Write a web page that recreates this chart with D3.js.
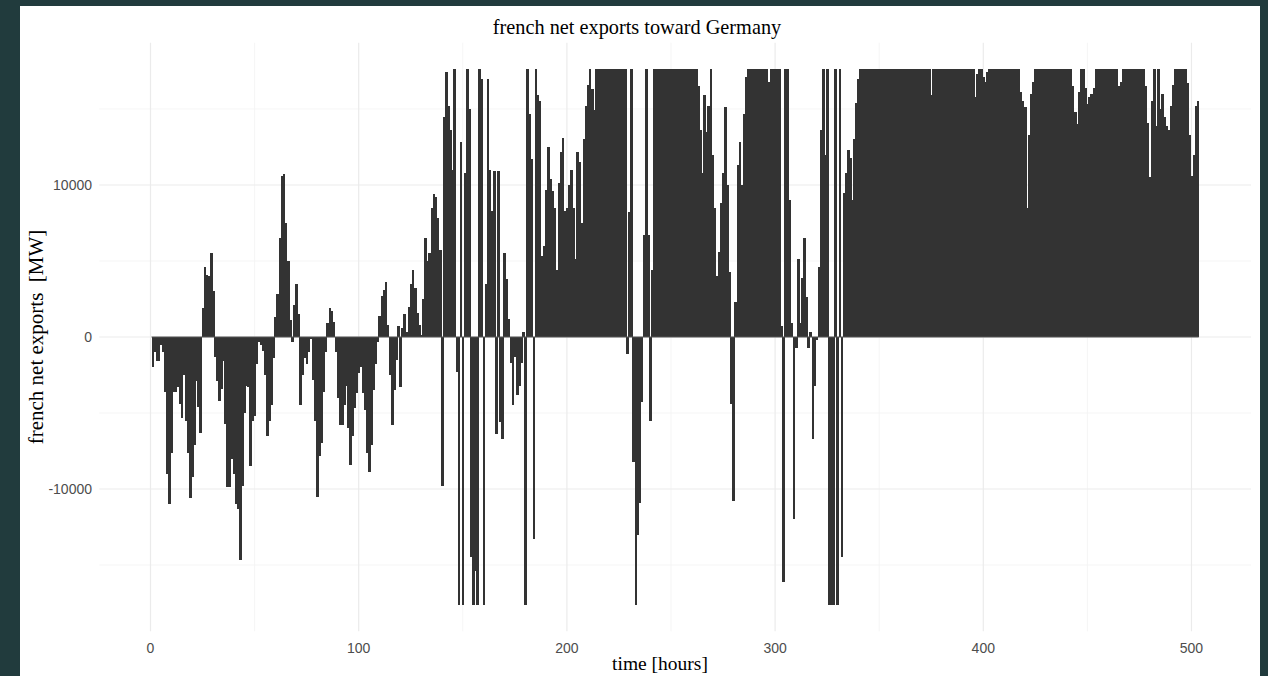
<!DOCTYPE html>
<html lang="en">
<head>
	<meta charset="utf-8">
	<script type="text/javascript" src="https://d3js.org/d3.v7.min.js"></script>
	<style type="text/css">
		body {
			margin: 0;
			background: #213b3d;
		}
		#chart {
			width: 1268px;
			height: 676px;
		}
		.tick-label {
			font-family: "Liberation Sans", Arial, sans-serif;
			font-size: 14px;
			fill: #4d4d4d;
		}
		.axis-title {
			font-family: "Liberation Serif", "Times New Roman", serif;
			font-size: 19.5px;
			fill: #000;
		}
	</style>
</head>
<body>
	<div id="chart"></div>
	<script type="text/javascript">

		// hourly french net exports toward Germany [MW], hour 1 .. 503
		var week1 = [
			-2000, -1000, -1600, -1600, -500, -1000, -3600, -9000, -11000, -7600,
			-3600, -3600, -3300, -4400, -5300, -2500, -5500, -7600, -10600, -9200,
			-7100, -2900, -4600, -6300, 1900, 4600, 4100, 4000, 5500, 3000,
			-1300, -2900, -4200, -3400, -1600, -5700, -9900, -9900, -8000, -9000,
			-11000, -11300, -14700, -9800, -5000, -3200, -3300, -8500, -5500, -5200,
			-1800, -300, -500, -900, -2500, -6500, -5500, -4500, -1400, 1300,
			2800, 6500, 10600, 10700, 7500, 5000, 1150, -350, 2100, 3500,
			1500, -4500, -2500, -1400, -1800, -1000, -100, -2800, -5500, -10500,
			-7800, -7000, -3600, -1000, 900, 1900, 1700, 1000, -1000, -4000,
			-5800, -5800, -4500, -3200, -6000, -8400, -6500, -4700, -3700, -2400,
			-2000, -3700, -4800, -7600, -8900, -7100, -3500, -1800, -300, 1400,
			2700, 3100, 3600, 800, -2500, -5800, -3500, -1500, 700, -3300,
			600, 1500, 300, 2000, 3500, 4400, 3200, 1600, 800, 100,
			2500, 6500, 5000, 5500, 8500, 9400, 9200, 7800, 5700, -9800,
			14500, 17400, 15200, 13600, 11000, 17600, -2300, -17600, 12800, -17600,
			10800, 17600, 15000, -14500, -17600, -15400, -17600, 17600, 17000, -17600,
			3500, 17000, 11000, 8300, 10900, -6400, 10900, -5600
		];

		var week2 = [
			-6700, 5500,
			3800, 1200, -1700, -4500, -1300, -3800, -3200, -1700, 350, -17600,
			17600, 14700, 11700, -13300, 17600, 15900, 15500, 5300, 6000, 9700,
			12500, 10400, 9600, 8500, 4400, 10100, 12200, 13100, 8300, 8500,
			10000, 11000, 8500, 5100, 12200, 11500, 7500, 13000, 15200, 16600,
			17600, 16300, 14900, 17600, 17600, 17600, 17600, 17600, 17600, 17600,
			17600, 17600, 17600, 17600, 17600, 17600, 17600, 17600, -1150, 8200,
			17600, -8200, -17600, -13000, -10900, -4300, 6700, 17600, 6700, -5500,
			4400, 17600, 17600, 17600, 17600, 17600, 17600, 17600, 17600, 17600,
			17600, 17600, 17600, 17600, 17600, 17600, 17600, 17600, 17600, 17600,
			17600, 17600, 16500, 13600, 10800, 15900, 13500, 15200, 17600, 12000,
			8500, 4000, 5600, 8800, 10800, 15100, 10000, 4300, -4400, -10800,
			2300, 11300, 12800, 10000, 14700, 17100, 17600, 17600, 17600, 17600,
			17600, 17600, 17600, 17600, 17600, 17600, 16800, 17600, 17600, 17600,
			17600, 17600, 700, -16100, 17600, 17600, 9000, 900, -12000, -700,
			5100, 900, 3900, 6500, 2600, -700, 300, -6700, -3200, -200,
			4600, 13600, 17600, 12000, 17600, -17600, -17600, -17600, 17600, -17600,
			17600, -14500, 9500, 10800, 12300, 11800
		];

		var week3 = [
			9000, 13000, 15400, 17000,
			17600, 17600, 17600, 17600, 17600, 17600, 17600, 17600, 17600, 17600,
			17600, 17600, 17600, 17600, 17600, 17600, 17600, 17600, 17600, 17600,
			17600, 17600, 17600, 17600, 17600, 17600, 17600, 17600, 17600, 17600,
			17600, 17600, 17600, 17600, 15900, 17600, 17600, 17600, 17600, 17600,
			17600, 17600, 17600, 17600, 17600, 17600, 17600, 17600, 17600, 17600,
			17600, 17600, 17600, 17600, 17600, 15800, 17300, 17600, 17600, 17100,
			16800, 17400, 17600, 17600, 17600, 17600, 17600, 17600, 17600, 17600,
			17600, 17600, 17600, 17600, 17600, 17600, 17600, 16100, 15500, 15100,
			8500, 13300, 16000, 16800, 17600, 17600, 17600, 17600, 17600, 17600,
			17600, 17600, 17600, 17600, 17600, 17600, 17600, 17600, 17600, 17600,
			17600, 17600, 16500, 14800, 14000, 16100, 17600, 17600, 16400, 15300,
			15800, 16000, 16400, 17600, 17600, 17600, 17600, 17600, 17600, 17600,
			17600, 17600, 17600, 17600, 16500, 16800, 17600, 17600, 17600, 17600,
			17600, 17600, 17600, 17600, 17600, 17600, 17600, 16500, 14100, 10500,
			15500, 17600, 13900, 17600, 15000, 16000, 14500, 13900, 13600, 15200,
			16600, 17600, 17600, 17600, 17600, 17600, 17600, 16700, 13300, 10600,
			12000, 15200, 15500
		];

		var xTicks = [0, 100, 200, 300, 400, 500];
		var xMinor = [50, 150, 250, 350, 450];
		var yTicks = [-10000, 0, 10000];
		var yMinor = [-15000, -5000, 5000, 15000];

		var values = week1.concat(week2, week3);
		var data = values.map(function(v, i) {
			return {hour: i + 1, value: v};
		});

		var width = 1268, height = 676;
		var barWidth = 0.9;

		var svg = d3.select("#chart")
			.append("svg")
			.attr("width", width)
			.attr("height", height);

		// white plot sheet
		svg.append("rect")
			.attr("x", 20)
			.attr("y", 6)
			.attr("width", 1240)
			.attr("height", 670)
			.attr("fill", "#ffffff");

		// ggplot style 5% expansion
		var xMin = 1 - barWidth / 2, xMax = data.length + barWidth / 2;
		var xPad = (xMax - xMin) * 0.05;
		var yLim = d3.max(values, function(v) { return Math.abs(v); });

		var x = d3.scaleLinear()
			.domain([xMin - xPad, xMax + xPad])
			.range([99.3, 1251]);

		var y = d3.scaleLinear()
			.domain([-yLim * 1.1, yLim * 1.1])
			.range([631.3, 42.7]);

		var grid = svg.append("g");

		grid.selectAll(".ymin")
			.data(yMinor)
			.enter()
			.append("line")
			.attr("x1", x.range()[0]).attr("x2", x.range()[1])
			.attr("y1", function(d) { return y(d); })
			.attr("y2", function(d) { return y(d); })
			.attr("stroke", "#f2f2f2")
			.attr("stroke-width", 0.8);

		grid.selectAll(".xmin")
			.data(xMinor)
			.enter()
			.append("line")
			.attr("y1", y.range()[0]).attr("y2", y.range()[1])
			.attr("x1", function(d) { return x(d); })
			.attr("x2", function(d) { return x(d); })
			.attr("stroke", "#f2f2f2")
			.attr("stroke-width", 0.8);

		grid.selectAll(".ymaj")
			.data(yTicks)
			.enter()
			.append("line")
			.attr("x1", x.range()[0]).attr("x2", x.range()[1])
			.attr("y1", function(d) { return y(d); })
			.attr("y2", function(d) { return y(d); })
			.attr("stroke", "#ebebeb")
			.attr("stroke-width", 1.2);

		grid.selectAll(".xmaj")
			.data(xTicks)
			.enter()
			.append("line")
			.attr("y1", y.range()[0]).attr("y2", y.range()[1])
			.attr("x1", function(d) { return x(d); })
			.attr("x2", function(d) { return x(d); })
			.attr("stroke", "#ebebeb")
			.attr("stroke-width", 1.2);

		// bars cover the whole hour and are snapped to pixels, so neighbours merge
		var step = x(1) - x(0);
		var bw = step + 0.6;

		svg.append("g")
			.attr("shape-rendering", "crispEdges")
			.selectAll("rect")
			.data(data)
			.enter()
			.append("rect")
			.attr("x", function(d) { return x(d.hour) - step / 2; })
			.attr("width", bw)
			.attr("y", function(d) { return y(Math.max(0, d.value)); })
			.attr("height", function(d) { return Math.abs(y(d.value) - y(0)); })
			.attr("fill", "#333333");

		// baseline under the bars
		svg.append("line")
			.attr("x1", x(1) - step / 2)
			.attr("x2", x(data.length) + step / 2)
			.attr("y1", y(0)).attr("y2", y(0))
			.attr("stroke", "#555555")
			.attr("stroke-width", 1);

		svg.selectAll(".ylab")
			.data(yTicks)
			.enter()
			.append("text")
			.attr("class", "tick-label")
			.attr("x", 92)
			.attr("y", function(d) { return y(d); })
			.attr("dy", "0.35em")
			.style("text-anchor", "end")
			.text(function(d) { return d; });

		svg.selectAll(".xlab")
			.data(xTicks)
			.enter()
			.append("text")
			.attr("class", "tick-label")
			.attr("x", function(d) { return x(d); })
			.attr("y", 653)
			.style("text-anchor", "middle")
			.text(function(d) { return d; });

		svg.append("text")
			.attr("class", "axis-title")
			.attr("x", 637)
			.attr("y", 34)
			.style("font-size", "20.3px")
			.style("text-anchor", "middle")
			.text("french net exports toward Germany");

		svg.append("text")
			.attr("class", "axis-title")
			.attr("x", 660)
			.attr("y", 670)
			.style("text-anchor", "middle")
			.text("time [hours]");

		svg.append("text")
			.attr("class", "axis-title")
			.attr("transform", "translate(43," + y(0) + ") rotate(-90)")
			.style("font-size", "21px")
			.style("text-anchor", "middle")
			.style("white-space", "pre")
			.text("french net exports  [MW]");

	</script>
</body>
</html>
